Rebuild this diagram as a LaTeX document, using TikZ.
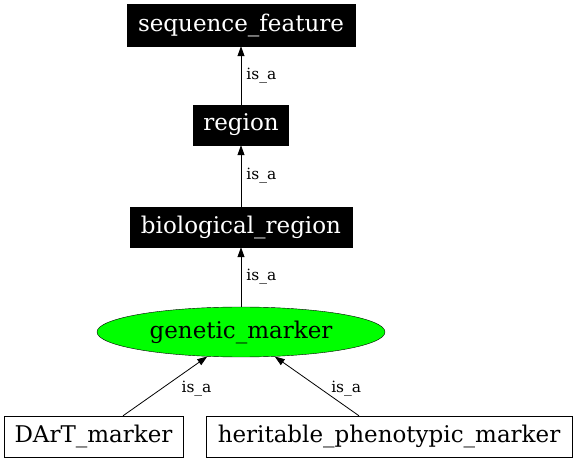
\documentclass[tikz,border=0pt]{standalone}
\usepackage{fontspec}
\setmainfont{DejaVu Serif}
\usetikzlibrary{shapes.geometric,arrows.meta}
\begin{document}
\begin{tikzpicture}[x=1pt,y=-1pt,
  blk/.style={fill=black,text=white,draw=black,inner sep=0pt,font=\fontsize{23}{26}\selectfont},
  wht/.style={fill=white,draw=black,inner sep=0pt,font=\fontsize{23}{26}\selectfont},
  arr/.style={-{Triangle[length=10pt,width=7pt]},black,line width=0.8pt},
  lbl/.style={font=\fontsize{15.5}{18}\selectfont,inner sep=0pt}]
\useasboundingbox (0,0) rectangle (576,462);
\node[blk,minimum width=228pt,minimum height=42pt] (sf) at (241,25) {sequence\_feature};
\node[blk,minimum width=95pt,minimum height=40pt] (rg) at (241,125) {region};
\node[blk,minimum width=222pt,minimum height=40pt] (br) at (241,227) {biological\_region};
\node[ellipse,draw=black,fill=green,inner sep=0pt,minimum width=288pt,minimum height=50pt,font=\fontsize{23}{26}\selectfont] (gm) at (241,332) {genetic\_marker};
\node[wht,minimum width=179pt,minimum height=41pt] (dm) at (93.5,436.5) {DArT\_marker};
\node[wht,minimum width=366pt,minimum height=41pt] (hm) at (389,436.5) {heritable\_phenotypic\_marker};
\draw[arr] (rg.north) -- (sf.south) node[lbl,pos=0.5,right=5pt] (l1) {is\_a};
\draw[arr] (br.north) -- (rg.south) node[lbl,pos=0.5,right=5pt] (l2) {is\_a};
\draw[arr] (gm.north) -- (br.south) node[lbl,pos=0.5,right=5pt] (l3) {is\_a};
\draw[arr] ([xshift=29.5pt]dm.north) -- (gm.216) node[lbl,pos=0.5,anchor=west,xshift=16pt,yshift=-2pt] (l4) {is\_a};
\draw[arr] ([xshift=-30pt]hm.north) -- (gm.324) node[lbl,pos=0.5,anchor=west,xshift=14pt,yshift=-2pt] (l5) {is\_a};
\end{tikzpicture}
\end{document}
